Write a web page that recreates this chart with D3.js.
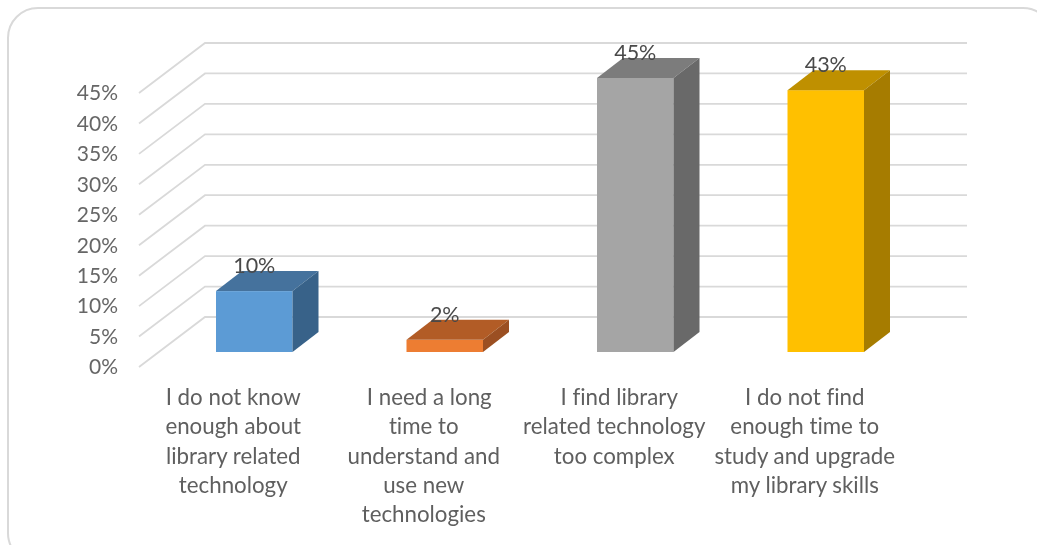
<!DOCTYPE html>
<html><head><meta charset="utf-8">
<script src="https://cdn.jsdelivr.net/npm/d3@7"></script>
<style>html,body{margin:0;padding:0;background:#fff}svg{display:block}text{font-family:Lato,sans-serif;font-variant-ligatures:none}</style>
</head><body><div id="chart"></div>
<script>
const categories = [
  ["I do not know","enough about","library related","technology"],
  ["I need a long","time to","understand and","use new","technologies"],
  ["I find library","related technology","too complex"],
  ["I do not find","enough time to","study and upgrade","my library skills"]
];
const values = [10, 2, 45, 43];
const tickValues = [0,5,10,15,20,25,30,35,40,45];
const frontColors = ["#5b9bd5","#ed7d31","#a5a5a5","#ffc000"];
const topColors = ["#44729d","#b25c25","#7c7c7c","#bf9000"];
const sideColors = ["#376289","#9b5020","#696969","#a67c00"];

const W = 1037, H = 545;
const svg = d3.select("#chart").append("svg").attr("width",W).attr("height",H);
svg.append("defs").append("filter").attr("id","soft")
  .attr("x","-5%").attr("y","-5%").attr("width","110%").attr("height","110%")
  .append("feGaussianBlur").attr("stdDeviation",0.5);
const g = svg.append("g").attr("filter","url(#soft)");

g.append("rect").attr("x",8).attr("y",8).attr("width",1045).attr("height",555)
  .attr("rx",30).attr("fill","#fff").attr("stroke","#d9d9d9").attr("stroke-width",2);

const x = d3.scaleBand().domain(d3.range(values.length)).range([139,901]);
const y = d3.scaleLinear().domain([0,45]).range([367,93]);
const depth = {x:66,y:-50}, barOff = {x:20,y:-15}, barDepth = {x:26,y:-20};
const barW = 76.5;
const firstLineNudge = [0,5.5,5,0];

const line = d3.line();
g.append("g").selectAll("path").data(tickValues).join("path")
  .attr("fill","none").attr("stroke","#d9d9d9").attr("stroke-width",1.8)
  .attr("d",t=>line([[x.range()[0],y(t)],[x.range()[0]+depth.x,y(t)+depth.y],[x.range()[1]+depth.x,y(t)+depth.y]]));

g.append("g").selectAll("text").data(tickValues).join("text")
  .attr("x",118).attr("y",t=>y(t)).attr("dy","0.35em").attr("text-anchor","end")
  .attr("font-size",21).attr("fill","#666").text(t=>t+"%");

const bars = g.append("g").selectAll("g").data(values).join("g")
  .attr("transform",(d,i)=>`translate(${x(i)+x.bandwidth()/2+barOff.x-barW/2},${barOff.y})`);
bars.append("rect").attr("x",0).attr("width",barW).attr("y",d=>y(d)).attr("height",d=>y(0)-y(d))
  .attr("fill",(d,i)=>frontColors[i]);
bars.append("path").attr("fill",(d,i)=>topColors[i])
  .attr("d",d=>`M0,${y(d)}l${barDepth.x},${barDepth.y}h${barW}l${-barDepth.x},${-barDepth.y}Z`);
bars.append("path").attr("fill",(d,i)=>sideColors[i])
  .attr("d",d=>`M${barW},${y(d)}l${barDepth.x},${barDepth.y}V${y(0)+barDepth.y}L${barW},${y(0)}Z`);

g.append("g").selectAll("text").data(values).join("text")
  .attr("x",(d,i)=>x(i)+x.bandwidth()/2+barOff.x)
  .attr("y",d=>y(d)+barOff.y-18).attr("text-anchor","middle")
  .attr("font-size",21.5).attr("fill","#4a4a4a").text(d=>d+"%");

const cat = g.append("g").selectAll("text").data(categories).join("text")
  .attr("text-anchor","middle").attr("font-size",22.3).attr("fill","#5f5f5f");
cat.selectAll("tspan").data((d,i)=>d.map(s=>({s,i}))).join("tspan")
  .attr("x",(d,j)=>x(d.i)+x.bandwidth()/2-1+(j===0?firstLineNudge[d.i]:0))
  .attr("y",(d,j)=>405+j*29.3)
  .text(d=>d.s);
</script></body></html>
